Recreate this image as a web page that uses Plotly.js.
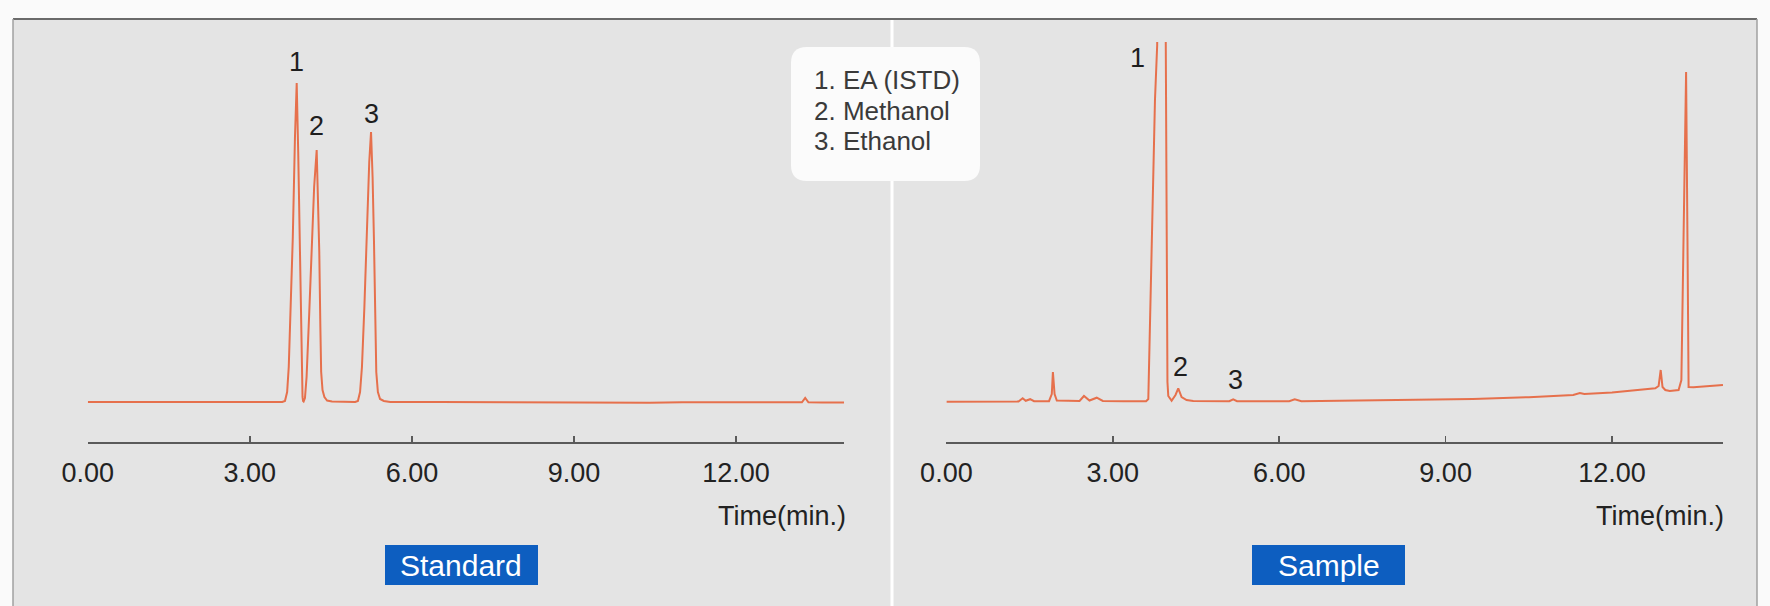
<!DOCTYPE html>
<html><head><meta charset="utf-8">
<script src="https://cdn.plot.ly/plotly-3.0.1.min.js"></script>
<style>html,body{margin:0;padding:0;background:#fafafa;overflow:hidden;} #chart{width:1770px;height:606px;}</style>
</head><body><div id="chart"></div>
<script>
// Standard chromatogram: retention time (min) and detector signal (baseline = 0)
const standardTime = [0, 0.6, 1.2, 2.0, 2.8, 3.4, 3.60, 3.65, 3.69, 3.72, 3.76, 3.795, 3.835, 3.867, 3.895, 3.92, 3.945, 3.962, 3.975, 3.985, 3.995,
  4.02, 4.05, 4.10, 4.145, 4.19, 4.237, 4.265, 4.285, 4.305, 4.32, 4.345, 4.38, 4.43, 4.52,
  4.95, 5.00, 5.04, 5.075, 5.12, 5.163, 5.21, 5.243, 5.272, 5.298, 5.32, 5.34, 5.37, 5.41, 5.48, 5.6,
  6.5, 7.5, 8.6, 10.4, 11.0, 12.0, 13.0, 13.22, 13.28, 13.34, 13.6, 14.0];
const standardSignal = [0, 0, 0.2, 0, 0, 0, 0, 1, 10, 35, 95, 165, 265, 319, 250, 160, 70, 25, 5, 1, 0.5,
  4, 25, 90, 160, 215, 252, 200, 150, 75, 30, 12, 5, 1.5, 0.5,
  0, 1, 10, 35, 95, 165, 240, 270, 225, 160, 80, 30, 10, 3, 1, 0,
  0, -0.3, -0.8, -0.8, -0.2, -0.3, -0.5, -0.3, 4, -0.3, -0.6, -0.6];

// Sample chromatogram
const sampleTime = [0, 0.5, 1.0, 1.30, 1.375, 1.43, 1.51, 1.58, 1.85, 1.90, 1.92, 1.95, 1.99, 2.40, 2.48, 2.58, 2.71, 2.82, 3.2,
  3.60, 3.64, 3.67, 3.76, 3.80, 3.885, 3.955, 3.965, 3.975, 3.985, 4.00, 4.06, 4.13, 4.18, 4.24, 4.33, 4.45,
  5.10, 5.17, 5.24, 6.18, 6.28, 6.40, 7.28, 8.4, 9.49, 10.5, 11.30, 11.42, 11.50, 12.0, 12.50, 12.78,
  12.84, 12.877, 12.91, 12.96, 13.04, 13.20, 13.25, 13.29, 13.335, 13.36, 13.38, 13.47, 13.71, 13.95, 14.0];
const sampleSignal = [0.3, 0.3, 0.5, 0.5, 3.7, 1.2, 2.8, 0.8, 0.8, 8, 30, 8, 1.5, 1, 6, 1.5, 4.3, 1, 0.8,
  0.8, 3, 72, 302, 357, 1800, 357, 250, 72, 20, 6, 1.3, 7, 13.7, 5, 2, 1,
  0.8, 2.7, 0.8, 0.8, 2.7, 0.8, 1.3, 2.0, 3.0, 4.8, 7, 9, 8, 9.5, 12, 13.7,
  16, 32, 15, 12, 11, 12, 22, 162, 330, 162, 15, 14.7, 16, 17, 17];

const tickValues = [0, 3, 6, 9, 12];
const tickLabels = ['0.00', '3.00', '6.00', '9.00', '12.00'];
const peakNumbers = ['1', '2', '3'];
const standardLabelTime = [3.867, 4.237, 5.256];
const standardLabelSignal = [340, 276, 288];
const sampleLabelTime = [3.454, 4.224, 5.203];
const sampleLabelSignal = [344, 35, 22];
const compoundNames = ['1. EA (ISTD)', '2. Methanol', '3. Ethanol'];
const panelNames = ['Standard', 'Sample'];
const axisTitle = 'Time(min.)';

const W = 1770, H = 606;
const fx = x => x / W, fy = y => 1 - y / H;
const FONT = 'Liberation Sans, Arial, sans-serif';
const LINE = '#e6704c';

const traces = [
  {x: standardTime, y: standardSignal, xaxis: 'x', yaxis: 'y', mode: 'lines', line: {color: LINE, width: 2}, hoverinfo: 'skip'},
  {x: sampleTime, y: sampleSignal, xaxis: 'x2', yaxis: 'y2', mode: 'lines', line: {color: LINE, width: 2}, hoverinfo: 'skip'}
];

const xCommon = {
  range: [0, 14], showline: true, linecolor: '#5a5a5a', linewidth: 2,
  ticks: 'inside', ticklen: 6, tickwidth: 1.5, tickcolor: '#5a5a5a',
  tickvals: tickValues, ticktext: tickLabels, ticklabelstandoff: 6,
  tickfont: {family: FONT, size: 27, color: '#222222'},
  showgrid: false, zeroline: false, fixedrange: true
};
const yCommon = {range: [-40, 360], visible: false, domain: [fy(442), fy(42)], fixedrange: true};

function rounded(x0, y0, x1, y1, r) {
  const X0 = fx(x0), X1 = fx(x1), Y0 = fy(y0), Y1 = fy(y1), rx = r / W, ry = r / H;
  return `M${X0 + rx},${Y0} L${X1 - rx},${Y0} Q${X1},${Y0} ${X1},${Y0 - ry} L${X1},${Y1 + ry} Q${X1},${Y1} ${X1 - rx},${Y1} L${X0 + rx},${Y1} Q${X0},${Y1} ${X0},${Y1 + ry} L${X0},${Y0 - ry} Q${X0},${Y0} ${X0 + rx},${Y0} Z`;
}

const shapes = [
  {type: 'rect', xref: 'paper', yref: 'paper', x0: fx(13), x1: fx(1757), y0: fy(19), y1: fy(606), fillcolor: '#e4e4e4', line: {width: 0}, layer: 'below'},
  {type: 'line', xref: 'paper', yref: 'paper', x0: fx(13), x1: fx(1757), y0: fy(19), y1: fy(19), line: {color: '#6a6a6a', width: 2}, layer: 'below'},
  {type: 'line', xref: 'paper', yref: 'paper', x0: fx(13), x1: fx(13), y0: fy(19), y1: fy(606), line: {color: '#a0a0a0', width: 1.5}, layer: 'below'},
  {type: 'line', xref: 'paper', yref: 'paper', x0: fx(1757), x1: fx(1757), y0: fy(19), y1: fy(606), line: {color: '#a0a0a0', width: 1.5}, layer: 'below'},
  {type: 'line', xref: 'paper', yref: 'paper', x0: fx(892), x1: fx(892), y0: fy(20), y1: fy(606), line: {color: '#ffffff', width: 3}, layer: 'below'},
  {type: 'path', xref: 'paper', yref: 'paper', path: rounded(791, 47, 980, 181, 16), fillcolor: '#fbfbfb', line: {width: 0}, layer: 'below'},
  {type: 'rect', xref: 'paper', yref: 'paper', x0: fx(385), x1: fx(538), y0: fy(545), y1: fy(585), fillcolor: '#0d5ec0', line: {width: 0}, layer: 'below'},
  {type: 'rect', xref: 'paper', yref: 'paper', x0: fx(1252), x1: fx(1405), y0: fy(545), y1: fy(585), fillcolor: '#0d5ec0', line: {width: 0}, layer: 'below'}
];

const annotations = [];
const peakFont = {family: FONT, size: 27, color: '#1e1e1e'};
peakNumbers.forEach((n, i) => {
  annotations.push({xref: 'x', yref: 'y', x: standardLabelTime[i], y: standardLabelSignal[i], text: n, showarrow: false, xanchor: 'center', yanchor: 'middle', font: peakFont});
  annotations.push({xref: 'x2', yref: 'y2', x: sampleLabelTime[i], y: sampleLabelSignal[i], text: n, showarrow: false, xanchor: 'center', yanchor: 'middle', font: peakFont});
});
const legendY = [80, 111, 141];
compoundNames.forEach((t, i) => {
  annotations.push({xref: 'paper', yref: 'paper', x: fx(812), y: fy(legendY[i]), text: t, showarrow: false, xanchor: 'left', yanchor: 'middle', font: {family: FONT, size: 26, color: '#3a3a3a'}});
});
annotations.push({xref: 'paper', yref: 'paper', x: fx(848), y: fy(516), text: axisTitle, showarrow: false, xanchor: 'right', yanchor: 'middle', font: {family: FONT, size: 27, color: '#222222'}});
annotations.push({xref: 'paper', yref: 'paper', x: fx(1726), y: fy(516), text: axisTitle, showarrow: false, xanchor: 'right', yanchor: 'middle', font: {family: FONT, size: 27, color: '#222222'}});
annotations.push({xref: 'paper', yref: 'paper', x: fx(461.5), y: fy(565), text: panelNames[0], showarrow: false, xanchor: 'center', yanchor: 'middle', font: {family: FONT, size: 30, color: '#ffffff'}});
annotations.push({xref: 'paper', yref: 'paper', x: fx(1328.5), y: fy(565), text: panelNames[1], showarrow: false, xanchor: 'center', yanchor: 'middle', font: {family: FONT, size: 30, color: '#ffffff'}});

const layout = {
  width: W, height: H,
  margin: {l: 0, r: 0, t: 0, b: 0, pad: 0},
  paper_bgcolor: '#fafafa', plot_bgcolor: 'rgba(0,0,0,0)',
  showlegend: false,
  xaxis: Object.assign({}, xCommon, {domain: [fx(87.8), fx(87.8 + 14 * 54.02)], anchor: 'y'}),
  yaxis: Object.assign({}, yCommon, {anchor: 'x'}),
  xaxis2: Object.assign({}, xCommon, {domain: [fx(946.4), fx(946.4 + 14 * 55.47)], anchor: 'y2'}),
  yaxis2: Object.assign({}, yCommon, {anchor: 'x2'}),
  shapes: shapes,
  annotations: annotations
};

Plotly.newPlot('chart', traces, layout, {displayModeBar: false, staticPlot: true});
</script>
</body></html>
